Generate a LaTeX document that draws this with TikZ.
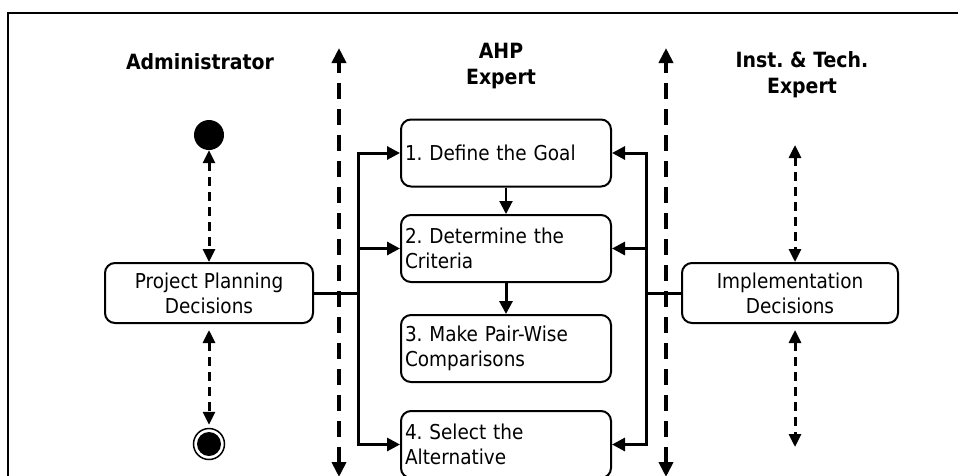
\documentclass[tikz,border=0pt]{standalone}
\usepackage{fontspec}
\setmainfont{DejaVu Sans}[FakeStretch=0.9]
\frenchspacing
\usetikzlibrary{
	arrows.meta,									% 箭头样式
	positioning,									% 节点摆放
}

\begin{document}
\begin{tikzpicture}[x=1pt, y=-1pt,
		font=\fontsize{20.5}{25}\selectfont,
		lane/.style={font=\fontsize{21}{26}\selectfont\bfseries, align=center},
		act/.style={draw, line width=2pt, rounded corners=10pt, minimum height=60pt, align=center},
		stepbox/.style={draw, line width=2pt, rounded corners=10pt, minimum height=67pt, minimum width=210pt,
			text width=202pt, inner xsep=4pt, align=left},
		flow/.style={line width=3pt, -{Triangle[length=13pt,width=13pt]}},
		swim/.style={line width=4.5pt, dash pattern=on 16pt off 10pt,
			{Triangle[length=15pt,width=14pt]}-{Triangle[length=15pt,width=14pt]}},
		link/.style={line width=3pt, dash pattern=on 9pt off 6pt,
			{Triangle[length=13pt,width=12pt]}-{Triangle[length=13pt,width=12pt]}},
	]
	\useasboundingbox (0,0) rectangle (958,475);
	\clip (0,0) rectangle (958,475);
	\draw[line width=2pt] (8,12.5) rectangle (990,510);				% 外框

	% 泳道标题
	\node[lane] (admin) at (200,62) {Administrator};
	\node[lane] (ahp) at (501,66) {AHP\\Expert};
	\node[lane] (inst) at (802,75) {Inst. \& Tech.\\Expert};

	% 泳道分隔线
	\coordinate (d1top) at (339,48);
	\coordinate (d1bot) at (339,477);
	\coordinate (d2top) at (666,48);
	\coordinate (d2bot) at (666,477);
	\draw[swim] (d1bot) -- (d1top);
	\draw[swim] (d2bot) -- (d2top);

	% 左侧
	\node[circle, fill, minimum size=30pt, inner sep=0pt] (start) at (209,135) {};
	\node[act, minimum width=208pt] (plan) at (209,293) {Project Planning\\Decisions};
	\node[circle, draw, line width=1.5pt, minimum size=31pt, inner sep=0pt] (stop) at (209,444) {};
	\fill (stop.center) circle[radius=12pt];
	\draw[link] (start) -- (plan);
	\draw[link, shorten <=6pt, shorten >=3pt] (plan) -- (stop);

	% 中间步骤
	\node[stepbox] (s1) at (506,153) {1. Define the Goal};
	\node[stepbox] (s2) at (506,248.5) {2. Determine the\\Criteria};
	\node[stepbox] (s3) at (506,348.5) {3. Make Pair-Wise\\Comparisons};
	\node[stepbox] (s4) at (506,444.5) {4. Select the\\Alternative};
	\draw[flow, line width=2pt] (s1) -- (s2);
	\draw[flow] (s2) -- (s3);

	% 右侧
	\node[act, minimum width=216pt] (impl) at (790,293) {Implementation\\Decisions};
	\coordinate (itop) at (795,145);
	\coordinate (ibot) at (795,447);
	\draw[link] (itop) -- (itop |- impl.north);
	\draw[link, shorten <=6pt] (ibot |- impl.south) -- (ibot);

	% 连接线
	\coordinate (lbus) at (358,293);
	\coordinate (rbus) at (646,293);
	\foreach \s in {s1,s2,s4}{
		\draw[flow] (plan.east) -- (lbus) |- (\s.west);
		\draw[flow] (impl.west) -- (rbus) |- (\s.east);
	}
\end{tikzpicture}
\end{document}
